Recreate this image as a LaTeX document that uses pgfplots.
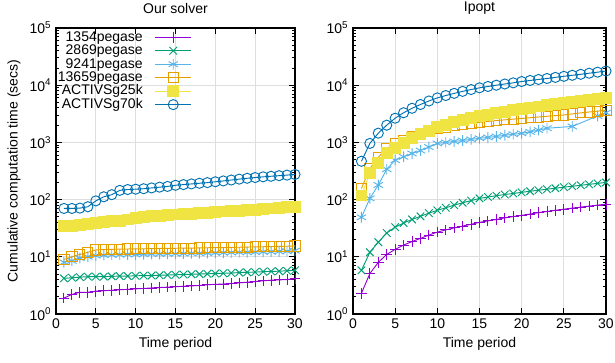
\documentclass[border=0pt]{standalone}
\usepackage{fontspec}
\setmainfont{Liberation Sans}
\usepackage{pgfplots}
\pgfplotsset{compat=1.18}
\definecolor{cA}{HTML}{9400D3}
\definecolor{cB}{HTML}{009E73}
\definecolor{cC}{HTML}{56B4E9}
\definecolor{cD}{HTML}{E69F00}
\definecolor{cE}{HTML}{F0E442}
\definecolor{cF}{HTML}{0072B2}
\newcommand{\fs}{\fontsize{10.5}{12}\selectfont}
\newcommand{\gap}{\rule{9pt}{0pt}}
\tikzset{
  sA/.style={color=cA, mark=+, mark size=4pt, line width=0.7pt},
  sB/.style={color=cB, mark=x, mark size=4pt, line width=0.7pt},
  sC/.style={color=cC, mark=asterisk, mark size=4pt, line width=0.7pt},
  sD/.style={color=cD, mark=square, mark size=3.8pt, line width=0.7pt},
  sE/.style={color=cE, mark=square*, mark size=4.1pt, mark options={fill=cE}, line width=0.7pt},
  sF/.style={color=cF, mark=o, mark size=3.8pt, line width=0.7pt},
}
\pgfplotsset{
  every axis/.append style={
    scale only axis, height=214.5pt,
    ymin=1, ymax=1e5, xmin=0, xmax=30,
    xtick={0,5,...,30},
    ytick={1,10,100,1000,10000,100000},
    yticklabels={10\textsuperscript{0},10\textsuperscript{1},10\textsuperscript{2},10\textsuperscript{3},10\textsuperscript{4},10\textsuperscript{5}},
    grid=major, major grid style={black!13, line width=0.8pt},
    tick align=inside,
    axis line style={line width=1.1pt},
    major tick length=4.5pt, minor tick length=2.3pt,
    every tick/.style={black, line width=0.7pt},
    tick label style={font=\fs},
    label style={font=\fs},
    title style={font=\fs, yshift=1pt},
    /pgf/number format/assume math mode=true,
    legend image code/.code={\draw[mark repeat=2,mark phase=2] plot coordinates {(0pt,0cm) (13.5pt,0cm) (27pt,0cm)};},
  },
}
\begin{document}
\begin{tikzpicture}
\begin{axis}[ymode=log, at={(42pt,36pt)}, anchor=south west, width=179.25pt,
  title={Our solver}, xlabel={Time period}, ylabel={Cumulative computation time (secs)},
  legend style={draw=none, fill=none, font=\fs, at={(0.569,0.992)}, anchor=north east, inner sep=0pt, row sep=0pt, column sep=0pt,
    nodes={inner sep=0pt, text height=7.9pt, text depth=2.2pt}},
  legend plot pos=right, legend cell align=right]
\addplot[sA] coordinates {(1,1.9)(2,2.2)(3,2.4)(4,2.4)(5,2.5)(6,2.55)(7,2.6)(8,2.65)(9,2.7)(10,2.75)(11,2.8)(12,2.85)(13,2.9)(14,2.95)(15,3.0)(16,3.05)(17,3.1)(18,3.15)(19,3.25)(20,3.3)(21,3.35)(22,3.4)(23,3.5)(24,3.6)(25,3.7)(26,3.8)(27,3.9)(28,3.95)(29,4.0)(30,4.1)};
\addlegendentry{1354pegase\gap}
\addplot[sB] coordinates {(1,4.2)(2,4.3)(3,4.4)(4,4.5)(5,4.5)(6,4.5)(7,4.55)(8,4.6)(9,4.6)(10,4.65)(11,4.7)(12,4.7)(13,4.75)(14,4.8)(15,4.85)(16,4.9)(17,4.95)(18,5.0)(19,5.05)(20,5.1)(21,5.15)(22,5.2)(23,5.3)(24,5.35)(25,5.4)(26,5.5)(27,5.55)(28,5.6)(29,5.7)(30,5.8)};
\addlegendentry{2869pegase\gap}
\addplot[sC] coordinates {(1,8.0)(2,8.5)(3,9.5)(4,10.0)(5,10.5)(6,10.7)(7,10.8)(8,10.9)(9,11.0)(10,11.0)(11,11.1)(12,11.2)(13,11.2)(14,11.3)(15,11.3)(16,11.4)(17,11.5)(18,11.5)(19,11.6)(20,11.7)(21,11.8)(22,11.9)(23,12.0)(24,12.0)(25,12.1)(26,12.2)(27,12.3)(28,12.4)(29,12.5)(30,12.8)};
\addlegendentry{9241pegase\gap}
\addplot[sD] coordinates {(1,9.0)(2,10.0)(3,11.0)(4,12.0)(5,13.2)(6,13.4)(7,13.5)(8,13.6)(9,13.7)(10,13.8)(11,13.8)(12,13.9)(13,14.0)(14,14.0)(15,14.1)(16,14.2)(17,14.2)(18,14.3)(19,14.4)(20,14.5)(21,14.5)(22,14.6)(23,14.7)(24,14.8)(25,14.9)(26,15.0)(27,15.1)(28,15.2)(29,15.3)(30,15.5)};
\addlegendentry{13659pegase\gap}
\addplot[sE] coordinates {(1,34)(2,35)(3,36)(4,37)(5,39)(6,40)(7,42)(8,43)(9,45)(10,48)(11,50)(12,51)(13,52)(14,53)(15,55)(16,56)(17,57)(18,58)(19,59)(20,60)(21,62)(22,63)(23,64)(24,65)(25,66)(26,68)(27,70)(28,71)(29,73)(30,75)};
\addlegendentry{ACTIVSg25k\gap}
\addplot[sF] coordinates {(1,70)(2,70)(3,71)(4,75)(5,95)(6,112)(7,122)(8,145)(9,150)(10,152)(11,155)(12,160)(13,165)(14,170)(15,178)(16,183)(17,188)(18,193)(19,198)(20,205)(21,212)(22,220)(23,228)(24,236)(25,243)(26,250)(27,256)(28,262)(29,268)(30,275)};
\addlegendentry{ACTIVSg70k\gap}
\end{axis}
\begin{axis}[ymode=log, at={(264.75pt,36pt)}, anchor=south west, width=189.75pt,
  title={Ipopt}, xlabel={Time period}]
\addplot[sA] coordinates {(1,2.3)(2,5.1)(3,8)(4,11)(5,13.5)(6,16)(7,18.5)(8,21)(9,24)(10,27)(11,29.5)(12,32)(13,34.5)(14,37)(15,40)(16,42.5)(17,45)(18,48)(19,50.5)(20,53)(21,56)(22,59)(23,62)(24,65)(25,68)(26,71)(27,74)(28,77)(29,80)(30,83)};
\addplot[sB] coordinates {(1,5.8)(2,12)(3,18)(4,26)(5,33)(6,39)(7,45)(8,51)(9,58)(10,65)(11,72)(12,80)(13,88)(14,96)(15,105)(16,111)(17,117)(18,123)(19,128)(20,134)(21,140)(22,146)(23,152)(24,158)(25,165)(26,171)(27,178)(28,185)(29,192)(30,200)};
\addplot[sC] coordinates {(1,49)(2,105)(3,180)(4,340)(5,490)(6,560)(7,640)(8,720)(9,830)(10,960)(11,1000)(12,1040)(13,1080)(14,1130)(15,1180)(16,1220)(17,1270)(18,1330)(19,1390)(20,1440)(21,1530)(22,1640)(23,1770)(26,1900)(29,2900)(30,3300)};
\addplot[sD] coordinates {(1,157)(2,350)(3,550)(4,790)(5,950)(6,1100)(7,1250)(8,1420)(9,1580)(10,1750)(11,1850)(12,1950)(13,2050)(14,2150)(15,2250)(16,2330)(17,2410)(18,2480)(19,2550)(20,2620)(21,2700)(22,2780)(23,2860)(24,2940)(25,3020)(26,3150)(27,3280)(28,3400)(29,3520)(30,3650)};
\addplot[sE] coordinates {(1,118)(2,290)(3,435)(4,650)(5,790)(6,960)(7,1180)(8,1380)(9,1600)(10,1850)(11,2050)(12,2250)(13,2450)(14,2650)(15,2850)(16,3050)(17,3250)(18,3450)(19,3650)(20,3850)(21,4050)(22,4250)(23,4450)(24,4650)(25,4850)(26,5050)(27,5250)(28,5450)(29,5650)(30,5900)};
\addplot[sF] coordinates {(1,468)(2,960)(3,1450)(4,2000)(5,2650)(6,3300)(7,3950)(8,4600)(9,5300)(10,6000)(11,6600)(12,7200)(13,7800)(14,8400)(15,9000)(16,9500)(17,10000)(18,10500)(19,11000)(20,11600)(21,12100)(22,12600)(23,13100)(24,13700)(25,14300)(26,14900)(27,15500)(28,16200)(29,16900)(30,17700)};
\end{axis}
\pgfresetboundingbox
\useasboundingbox (0,0) rectangle (461.25pt,271.5pt);
\end{tikzpicture}
\end{document}
